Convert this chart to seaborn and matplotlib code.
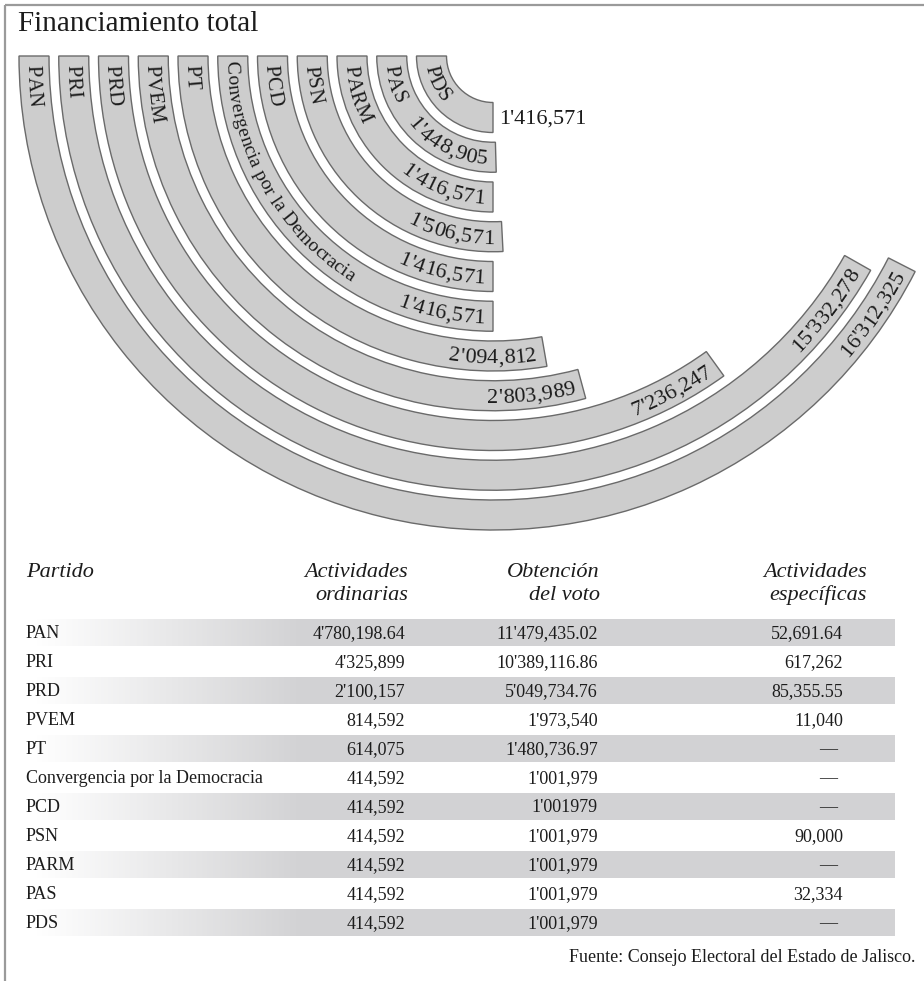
import numpy as np
import pandas as pd
import matplotlib
matplotlib.use("Agg")
import matplotlib.pyplot as plt
import seaborn as sns
from matplotlib import ft2font
from matplotlib.font_manager import findfont, FontProperties

# ---------------------------------------------------------------- data
partidos = ["PAN", "PRI", "PRD", "PVEM", "PT", "Convergencia por la Democracia",
            "PCD", "PSN", "PARM", "PAS", "PDS"]
financiamiento_total = [16312325, 15332278, 7236247, 2803989, 2094812, 1416571,
                        1416571, 1506571, 1416571, 1448905, 1416571]
actividades_ordinarias = ["4'780,198.64", "4'325,899", "2'100,157", "814,592",
                          "614,075", "414,592", "414,592", "414,592", "414,592",
                          "414,592", "414,592"]
obtencion_voto = ["11'479,435.02", "10'389,116.86", "5'049,734.76", "1'973,540",
                  "1'480,736.97", "1'001,979", "1'001979", "1'001,979",
                  "1'001,979", "1'001,979", "1'001,979"]
actividades_especificas = ["52,691.64", "617,262", "85,355.55", "11,040", "—", "—",
                           "—", "90,000", "—", "32,334", "—"]
encabezados = [("Partido", ""), ("Actividades", "ordinarias"),
               ("Obtención", "del voto"), ("Actividades", "específicas")]
titulo = "Financiamiento total"
fuente = "Fuente: Consejo Electoral del Estado de Jalisco."

# ---------------------------------------------------------------- style
sns.set_theme(style="white")
SERIF = "Liberation Serif"
plt.rcParams["font.family"] = [SERIF, "DejaVu Serif"]

W, H, DPI = 924, 981, 100
fig = plt.figure(figsize=(W / DPI, H / DPI), dpi=DPI)
fig.patch.set_facecolor("white")

TXT = "#1c1c1c"
ARC_FILL = "#cdcdcd"
ARC_EDGE = "#6a6a6a"
BAND = np.array([0.824, 0.824, 0.835])

# ---------------------------------------------------------------- ring chart
CX, CY = 493, 56          # centre of the rings (pixels from top-left)
PX = 39.75                # pixels between neighbouring rings
RMIN, RMAX = -1.547, 11.0
half = PX * (RMAX - RMIN)
ax = fig.add_axes([(CX - half) / W, (H - CY - half) / H, 2 * half / W, 2 * half / H],
                  projection="polar")
ax.set_theta_zero_location("W")
ax.set_theta_direction(1)

V0 = min(financiamiento_total)


def barrido(v):
    """Angular sweep of a ring: a quarter turn for the smallest amount,
    growing with a power scale for the larger ones."""
    return np.deg2rad(90 + 12.45 * ((v - V0) / 1e6) ** 0.6)


df = pd.DataFrame({"partido": partidos, "total": financiamiento_total})
df["barrido"] = df["total"].map(barrido)
orden = partidos[::-1]          # innermost ring first

sns.barplot(data=df, x="barrido", y="partido", order=orden, orient="h",
            width=0.755, color=ARC_FILL, saturation=1, edgecolor=ARC_EDGE,
            linewidth=1.0, errorbar=None, ax=ax)
ax.set_xlim(0, 2 * np.pi)
ax.set_ylim(RMIN, RMAX)
ax.axis("off")


def avances(texto, size):
    font = ft2font.FT2Font(findfont(FontProperties(family=SERIF)))
    font.set_size(size, DPI)
    return [font.load_char(ord(c)).linearHoriAdvance / 65536 for c in texto]


def texto_en_arco(texto, anillo, theta, size, al_final, pad=8):
    """Write text along a ring, glyph tops toward the centre."""
    r_mid = PX * (anillo - RMIN)
    adv = avances(texto, size)
    total = sum(adv)
    cap = 0.66 * size * DPI / 72
    r_base = (r_mid + cap / 2) / PX + RMIN
    pos = theta * r_mid - pad - total if al_final else theta * r_mid + pad
    for c, a in zip(texto, adv):
        th = (pos + a / 2) / r_mid
        ax.text(th, r_base, c, rotation=(270 + np.rad2deg(th)) % 360,
                rotation_mode="anchor", ha="center", va="baseline",
                fontsize=size, color=TXT)
        pos += a


def millones(v):
    m, resto = divmod(int(v), 1_000_000)
    miles, unidades = divmod(resto, 1000)
    return f"{m}'{miles:03d},{unidades:03d}" if m else f"{miles},{unidades:03d}"


for _, fila in df.iterrows():
    anillo = orden.index(fila["partido"])
    nombre = fila["partido"]
    texto_en_arco(nombre, anillo, 0.0, 15 if len(nombre) < 6 else 14, False,
                  pad=9 if len(nombre) < 6 else 5)
    if anillo == 0:
        ax.annotate(millones(fila["total"]), xy=(fila["barrido"], 0),
                    xytext=(6, -2), textcoords="offset pixels", ha="left",
                    va="center", fontsize=16, color=TXT)
    else:
        texto_en_arco(millones(fila["total"]), anillo, fila["barrido"], 16, True)

# ---------------------------------------------------------------- table & frame
tab = fig.add_axes([0, 0, 1, 1], zorder=5)
tab.patch.set_alpha(0)

ROW0, PITCH = 632, 29
xs = np.linspace(20, 895, 400)
alpha = np.clip((xs - 35) / (300 - 35), 0, 1)
grad = np.zeros((1, xs.size, 4))
grad[..., :3] = BAND
grad[..., 3] = alpha
for i in range(0, len(partidos), 2):
    yc = ROW0 + PITCH * i
    tab.imshow(grad, extent=(20, 895, yc + 14, yc - 13), aspect="auto",
               interpolation="bilinear", zorder=1)

BODY = 13
for i, p in enumerate(partidos):
    yb = ROW0 + PITCH * i + 6
    tab.text(26, yb, p, ha="left", va="baseline", fontsize=BODY, color=TXT, zorder=3)
    tab.text(405, yb, actividades_ordinarias[i], ha="right", va="baseline",
             fontsize=BODY, color=TXT, zorder=3)
    tab.text(598, yb, obtencion_voto[i], ha="right", va="baseline",
             fontsize=BODY, color=TXT, zorder=3)
    esp = actividades_especificas[i]
    if esp == "—":
        tab.text(828, yb, esp, ha="center", va="baseline", fontsize=BODY,
                 color=TXT, zorder=3)
    else:
        tab.text(843, yb, esp, ha="right", va="baseline", fontsize=BODY,
                 color=TXT, zorder=3)

HEAD = 16
hx = [(26, "left"), (408, "right"), (600, "right"), (867, "right")]
for (l1, l2), (x, ha) in zip(encabezados, hx):
    tab.text(x, 577, l1, ha=ha, va="baseline", fontsize=HEAD, style="italic", color=TXT)
    if l2:
        tab.text(x, 600, l2, ha=ha, va="baseline", fontsize=HEAD, style="italic", color=TXT)

tab.text(18, 31, titulo, ha="left", va="baseline", fontsize=21, color=TXT)
tab.text(915, 962, fuente, ha="right", va="baseline", fontsize=13, color=TXT)

tab.plot([5, W], [5, 5], color="#9a9a9a", lw=1.6, solid_capstyle="butt")
tab.plot([5, 5], [5, H], color="#9a9a9a", lw=1.6, solid_capstyle="butt")

tab.set_xlim(0, W)
tab.set_ylim(H, 0)
tab.axis("off")

fig.savefig("out.png", dpi=DPI, facecolor="white")
